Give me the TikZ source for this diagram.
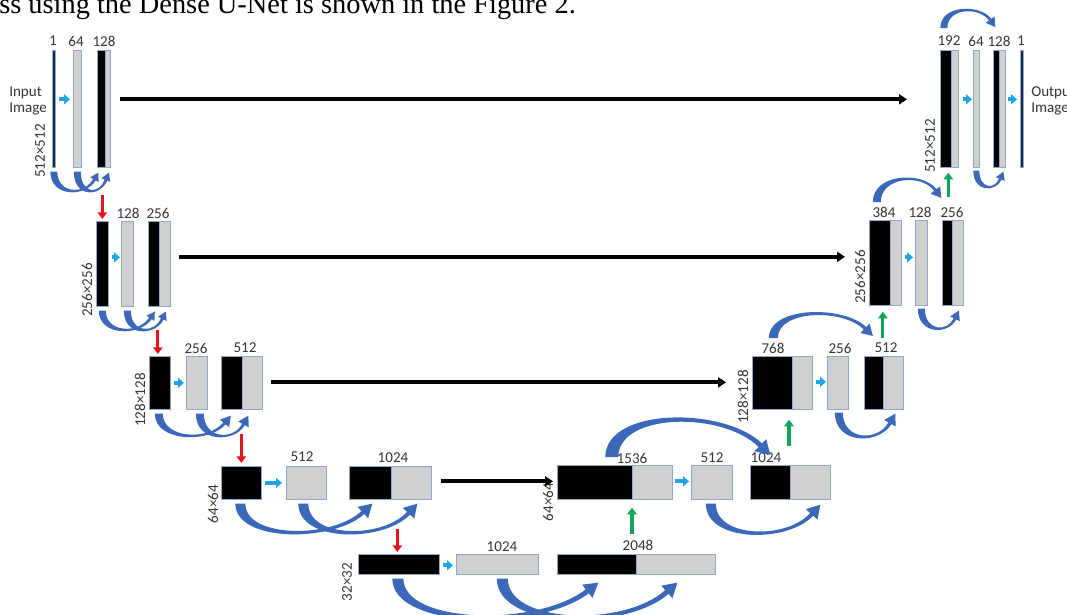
\documentclass[tikz,border=0pt]{standalone}
\usepackage{fontspec}
\setmainfont{Carlito}
\newfontfamily\serifline{Liberation Serif}
\usetikzlibrary{arrows.meta,calc}

\definecolor{arcblue}{HTML}{3B68B8}
\definecolor{cyanarrow}{HTML}{1FA5E8}
\definecolor{redarrow}{HTML}{E8141C}
\definecolor{greenarrow}{HTML}{12A55A}
\definecolor{blockgray}{HTML}{D0D0D0}
\definecolor{blockedge}{HTML}{8FA8D0}
\definecolor{navybar}{HTML}{1C2740}
\definecolor{labelgray}{HTML}{363636}

\tikzset{
  blk/.style={draw=blockedge, line width=0.5pt, inner sep=0pt, anchor=north west},
  lbl/.style={font=\fontsize{11.3}{13}\selectfont, text=labelgray, inner sep=0pt},
  vlbl/.style={lbl, rotate=90},
  skip/.style={line width=3.2pt, -{Triangle[length=6pt,width=7.5pt]}},
  conv/.style={cyanarrow, line width=3pt, -{Triangle[length=4.5pt,width=7.5pt]}},
  down/.style={redarrow, line width=2.4pt, -{Triangle[length=5pt,width=7pt]}},
  up/.style={greenarrow, line width=2.4pt, -{Triangle[length=5pt,width=7pt]}},
}

% block: name, left, top, width, height (all in px), fill colour
\newcommand\blockat[6]{%
  \node[blk, fill=#6, minimum width=#4*0.75pt, minimum height=#5*0.75pt] (#1) at (#2,#3) {};}

% tapered curved arrow: start, tip, depth (+ below / - above), start width, band width, head length
\newcommand\bandarrow[6]{%
  \pgfmathsetmacro\sg{ifthenelse(#3<0,-1,1)}%
  \pgfmathsetmacro\ro{-90*\sg}%
  \pgfmathsetmacro\ri{90*\sg}%
  \pgfmathsetmacro\sw{#4/2}%
  \pgfmathsetmacro\oy{\sg*#5/2}%
  \pgfmathsetmacro\iy{-\sg*#5/2}%
  \pgfmathsetlengthmacro\hwd{#5/2*0.75pt}%
  \pgfmathsetlengthmacro\hl{#6*0.75pt}%
  \pgfmathsetlengthmacro\wg{#6*0.6*0.75pt}%
  \coordinate (cS) at #1;
  \coordinate (cT) at #2;
  \coordinate (cA) at ($(cS)+(0,#3)$);
  \coordinate (cB) at ($(cS)!0.7!(cT)+(0,#3)$);
  \coordinate (cE) at ($(cT)!\hl!(cB)$);
  \fill[arcblue]
    ($(cS)+(-\sw,0)$) .. controls ($(cA)+(-\sw,\oy)$) and ($(cB)+(0,\oy)$) .. ($(cE)!\hwd!\ro:(cT)$)
    -- ($(cE)!\wg!\ro:(cT)$) -- (cT) -- ($(cE)!\wg!\ri:(cT)$)
    -- ($(cE)!\hwd!\ri:(cT)$) .. controls ($(cB)+(0,\iy)$) and ($(cA)+(\sw,\iy)$) .. ($(cS)+(\sw,0)$)
    -- cycle;}

\begin{document}
\begin{tikzpicture}[x=0.75pt,y=-0.75pt]
\useasboundingbox (0,0) rectangle (1067,614);
\clip (0,0) rectangle (1067,614);
\fill[white] (0,0) rectangle (1067,614);

% running text line above the figure
\node[anchor=base west, inner sep=0pt, font=\serifline\fontsize{21.3}{24}\selectfont] (caption) at (-1,13)
  {ss using the Dense U-Net is shown in the Figure 2.};

% ---------- encoder, 512x512 ----------
\blockat{in1}{52}{50}{3}{117}{navybar}
\blockat{g64a}{73}{50}{8}{117}{blockgray}
\blockat{k128a}{97}{50}{8}{117}{black}
\blockat{g128a}{105}{50}{5}{117}{blockgray}
\node[lbl] at (53,41) {1};
\node[lbl] at (76,41) {64};
\node[lbl] at (104,41) {128};
\node[lbl, align=left, anchor=west] (inimg) at (9,101) {Input\\[-1pt]Image};
\node[vlbl] at (40,151) {512×512};

% ---------- encoder, 256x256 ----------
\blockat{k256}{96}{221}{12}{85}{black}
\blockat{g128c}{121}{221}{12}{85}{blockgray}
\blockat{k256b}{148}{221}{11}{85}{black}
\blockat{g256b}{159}{221}{11}{85}{blockgray}
\node[lbl] at (128,213) {128};
\node[lbl] at (158,213) {256};
\node[vlbl] at (87,290) {256×256};

% ---------- encoder, 128x128 ----------
\blockat{k128}{149}{356}{21}{53}{black}
\blockat{g256d}{186}{356}{21}{53}{blockgray}
\blockat{k512}{221}{356}{21}{53}{black}
\blockat{g512}{242}{356}{20}{53}{blockgray}
\node[lbl] at (196,348) {256};
\node[lbl] at (245,348) {512};
\node[vlbl] at (140,400) {128×128};

% ---------- encoder, 64x64 ----------
\blockat{k64}{221}{466}{40}{33}{black}
\blockat{g512c}{286}{466}{40}{33}{blockgray}
\blockat{k1024}{349}{466}{42}{33}{black}
\blockat{g1024}{391}{466}{40}{33}{blockgray}
\node[lbl] at (302,457) {512};
\node[lbl] at (393,458) {1024};
\node[vlbl] at (213,504) {64×64};

% ---------- bottleneck, 32x32 ----------
\blockat{k32}{358}{554}{81}{20}{black}
\blockat{g1024c}{456}{554}{82}{20}{blockgray}
\blockat{k2048}{557}{554}{79}{20}{black}
\blockat{g2048}{636}{554}{79}{20}{blockgray}
\node[lbl] at (502,547) {1024};
\node[lbl] at (638,545) {2048};
\node[vlbl] at (347,582) {32×32};

% ---------- decoder, 64x64 ----------
\blockat{k1536}{557}{465}{75}{34}{black}
\blockat{g1536}{632}{465}{40}{34}{blockgray}
\blockat{g512d}{691}{465}{41}{34}{blockgray}
\blockat{k1024b}{750}{465}{40}{34}{black}
\blockat{g1024b}{790}{465}{40}{34}{blockgray}
\node[lbl] at (632,458) {1536};
\node[lbl] at (712,458) {512};
\node[lbl] at (766,458) {1024};
\node[vlbl] at (548,502) {64×64};

% ---------- decoder, 128x128 ----------
\blockat{k768}{752}{356}{40}{53}{black}
\blockat{g768}{792}{356}{20}{53}{blockgray}
\blockat{g256e}{827}{356}{21}{53}{blockgray}
\blockat{k512b}{864}{356}{19}{53}{black}
\blockat{g512b}{883}{356}{20}{53}{blockgray}
\node[lbl] at (773,348) {768};
\node[lbl] at (840,348) {256};
\node[lbl] at (886,348) {512};
\node[vlbl] at (743,397) {128×128};

% ---------- decoder, 256x256 ----------
\blockat{k384}{869}{220}{21}{85}{black}
\blockat{g384}{890}{220}{11}{85}{blockgray}
\blockat{g128d}{915}{220}{12}{85}{blockgray}
\blockat{k256c}{942}{220}{10}{85}{black}
\blockat{g256c}{952}{220}{11}{85}{blockgray}
\node[lbl] at (884,212) {384};
\node[lbl] at (920,212) {128};
\node[lbl] at (952,212) {256};
\node[vlbl] at (860,277) {256×256};

% ---------- decoder, 512x512 ----------
\blockat{k192}{940}{50}{11}{117}{black}
\blockat{g192}{951}{50}{7}{117}{blockgray}
\blockat{g64b}{973}{50}{6}{117}{blockgray}
\blockat{k128b}{993}{50}{6}{117}{black}
\blockat{g128b}{999}{50}{6}{117}{blockgray}
\blockat{out1}{1020}{50}{3}{117}{navybar}
\node[lbl] at (949,41) {192};
\node[lbl] at (976,41) {64};
\node[lbl] at (999,41) {128};
\node[lbl] at (1021,41) {1};
\node[lbl, align=left, anchor=west] (outimg) at (1031,101) {Output\\[-1pt]Image};
\node[vlbl] at (930,146) {512×512};

% ---------- skip connections ----------
\draw[skip] ($(g128a.east)+(9,-9.5)$) -- ($(k192.west)+(-33,-9.5)$);
\draw[skip] ($(g256b.east)+(8,-7)$) -- ($(k384.west)+(-24,-6)$);
\draw[skip] ($(g512.east)+(8,-0.5)$) -- ($(k768.west)+(-26,-0.5)$);
\draw[skip] ($(g1024.east)+(9,-1.5)$) -- ($(k1536.west)+(-4,-1)$);

% ---------- convolutions ----------
\draw[conv] ($(in1.east)+(3,-9.5)$) -- ($(g64a.west)+(-3,-9.5)$);
\draw[conv] ($(g192.east)+(4,-9.5)$) -- ($(g64b.west)+(-1,-9.5)$);
\draw[conv] ($(g128b.east)+(2,-9.5)$) -- ($(out1.west)+(-3,-9.5)$);
\draw[conv] ($(k256.east)+(3,-6.5)$) -- ($(g128c.west)+(-1,-6.5)$);
\draw[conv] ($(g384.east)+(3,-5.5)$) -- ($(g128d.west)+(-2,-5.5)$);
\draw[conv] ($(k128.east)+(3,0)$) -- ($(g256d.west)+(-2,0)$);
\draw[conv] ($(g768.east)+(3,-1)$) -- ($(g256e.west)+(-1,-1)$);
\draw[conv] ($(k64.east)+(3,0)$) -- ($(g512c.west)+(-4,0)$);
\draw[conv] ($(g1536.east)+(2,-1)$) -- ($(g512d.west)+(-2,-1)$);
\draw[conv] ($(k32.east)+(3,1)$) -- ($(g1024c.west)+(-3,1)$);

% ---------- downsampling ----------
\draw[down] ($(k256.north)+(0,-26)$) -- ($(k256.north)+(0,-2)$);
\draw[down] ($(k128.north)+(-2,-26)$) -- ($(k128.north)+(-2,-2)$);
\draw[down] ($(k64.north)+(0,-32)$) -- ($(k64.north)+(0,-3)$);
\draw[down] ($(k32.north)+(-1.5,-25)$) -- ($(k32.north)+(-1.5,-2)$);

% ---------- upsampling ----------
\draw[up] ($(g1536.south west)+(0,34)$) -- ($(g1536.south west)+(0,8)$);
\draw[up] ($(g768.south west)+(-3,36)$) -- ($(g768.south west)+(-3,10)$);
\draw[up] ($(k384.south)+(3,32)$) -- ($(k384.south)+(3,6)$);
\draw[up] ($(k192.south)+(2.5,29)$) -- ($(k192.south)+(2.5,5)$);

% ---------- dense connections ----------
\bandarrow{($(in1.south)+(0,4)$)}{($(k128a.south)+(-3,5)$)}{24}{7}{3}{8}
\bandarrow{($(g64a.south)+(0,4)$)}{($(g128a.south)+(1,5)$)}{24}{7}{3}{8}
\bandarrow{($(k256.south)+(0,4)$)}{($(k256b.south)+(1,5)$)}{24}{7}{3}{8}
\bandarrow{($(g128c.south)+(0,4)$)}{($(g256b.south)+(1,5)$)}{24}{7}{3}{8}
\bandarrow{($(k128.south)+(-1,4)$)}{($(k512.south)+(-1,6)$)}{27}{8}{3}{10}
\bandarrow{($(g256d.south)+(3,4)$)}{($(g512.south)+(-4,6)$)}{27}{8}{3}{10}
\bandarrow{($(k64.south)+(-1,4)$)}{($(k1024.south)+(2,4)$)}{37}{10}{4}{13}
\bandarrow{($(g512c.south)+(-3,4)$)}{($(g1024.south)+(6,4)$)}{37}{10}{4}{13}
\bandarrow{($(k32.south)+(-1,4)$)}{($(k2048.south)+(1.5,8)$)}{48}{11}{5}{14}
\bandarrow{($(g1024c.south)+(5,4)$)}{($(g2048.south)+(1.5,8)$)}{48}{11}{5}{14}
\bandarrow{($(k1536.north)+(17,-8)$)}{($(k1024b.north)+(0,-10)$)}{-47}{13}{5}{14}
\bandarrow{($(g512d.south)+(-1,4)$)}{($(g1024b.south)+(10,5)$)}{37}{10}{4}{13}
\bandarrow{($(k768.north)+(1,-18)$)}{($(k512b.north)+(-1,-20)$)}{-30}{9}{3.5}{11}
\bandarrow{($(g256e.south)+(1,3)$)}{($(g512b.south)+(2,4)$)}{30}{8}{3.5}{11}
\bandarrow{($(k384.north)+(-3,-18)$)}{($(k256c.north)+(-6,-22)$)}{-27}{8}{3}{10}
\bandarrow{($(g128d.south)+(0,3)$)}{($(g256c.south)+(1,5)$)}{24}{7}{3}{9}
\bandarrow{($(k192.north)+(-2,-22)$)}{($(k128b.north)+(-1,-23)$)}{-22}{7}{3}{9}
\bandarrow{($(g64b.south)+(0,3)$)}{($(g128b.south)+(1,4)$)}{20}{6}{3}{8}
\end{tikzpicture}
\end{document}
